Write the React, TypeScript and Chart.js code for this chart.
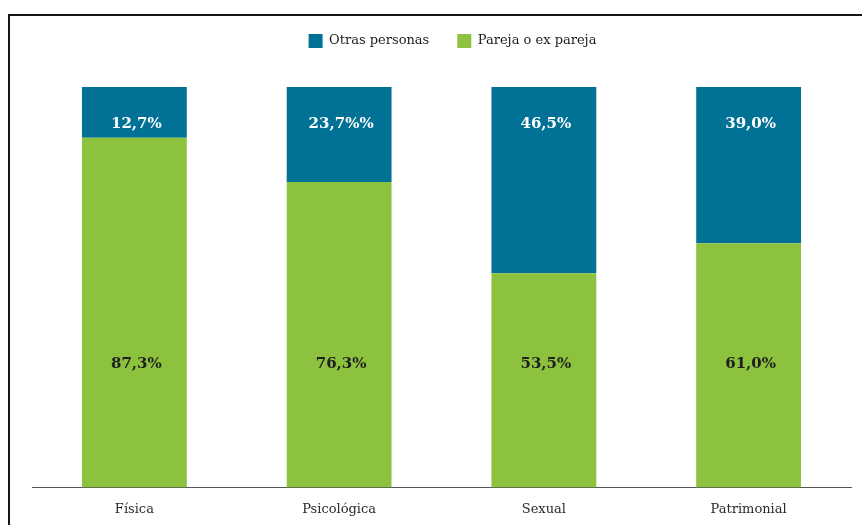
import { useEffect, useRef } from "react";
import { Chart, registerables } from "chart.js";

Chart.register(...registerables);

const categories = ["Física", "Psicológica", "Sexual", "Patrimonial"];
const seriesNames = ["Pareja o ex pareja", "Otras personas"];
const parejaValues = [87.3, 76.3, 53.5, 61.0];
const otrasValues = [12.7, 23.7, 46.5, 39.0];
const parejaLabels = ["87,3%", "76,3%", "53,5%", "61,0%"];
const otrasLabels = ["12,7%", "23,7%%", "46,5%", "39,0%"];

const BLUE = "#017296";
const GREEN = "#8DC23F";
const FONT = '"DejaVu Serif", serif';

export default function App() {
  const ref = useRef<HTMLCanvasElement | null>(null);

  useEffect(() => {
    if (!ref.current) return;

    const legendTweak = {
      id: "legendTweak",
      beforeLayout(chart: any) {
        const lg = chart.legend;
        if (lg && !lg.__patched) {
          const origFit = lg.fit;
          lg.fit = function () {
            origFit.call(this);
            this.height = 81;
          };
          const origDraw = lg.draw;
          lg.draw = function () {
            const c = this.ctx;
            c.save();
            c.translate(11, 0);
            origDraw.call(this);
            c.restore();
          };
          lg.__patched = true;
        }
      },
    };

    const valueLabels = {
      id: "valueLabels",
      afterDatasetsDraw(chart: any) {
        const { ctx } = chart;
        const y = chart.scales.y;
        const topBase = y.getPixelForValue(100) + 41;
        const bottomBase = y.getPixelForValue(0) - 119;
        ctx.save();
        ctx.font = `bold 15px ${FONT}`;
        ctx.textAlign = "center";
        ctx.textBaseline = "alphabetic";
        chart.getDatasetMeta(0).data.forEach((el: any, i: number) => {
          ctx.fillStyle = "#1f1f1f";
          ctx.fillText(parejaLabels[i], el.x + 2, bottomBase);
        });
        chart.getDatasetMeta(1).data.forEach((el: any, i: number) => {
          ctx.fillStyle = "#ffffff";
          ctx.fillText(otrasLabels[i], el.x + 2, topBase);
        });
        ctx.restore();
      },
    };

    const chart = new Chart(ref.current, {
      type: "bar",
      data: {
        labels: categories,
        datasets: [
          {
            label: seriesNames[0],
            data: parejaValues,
            backgroundColor: GREEN,
            borderWidth: 0,
          },
          {
            label: seriesNames[1],
            data: otrasValues,
            backgroundColor: BLUE,
            borderWidth: 0,
          },
        ],
      },
      options: {
        responsive: false,
        animation: false,
        devicePixelRatio: 1,
        layout: { padding: { left: 32, right: 11, top: 6, bottom: 17 } },
        datasets: {
          bar: { categoryPercentage: 1, barPercentage: 0.512 },
        },
        plugins: {
          legend: {
            position: "top",
            reverse: true,
            labels: {
              boxWidth: 14,
              boxHeight: 14,
              padding: 28,
              color: "#1c1c1c",
              font: { family: FONT, size: 13 },
            },
          },
          tooltip: { enabled: false },
        },
        scales: {
          x: {
            stacked: true,
            grid: { display: false },
            border: { display: true, color: "#555", width: 1 },
            ticks: {
              color: "#2a2a2a",
              padding: 6,
              font: { family: FONT, size: 13 },
            },
          },
          y: {
            stacked: true,
            display: false,
            min: 0,
            max: 100,
          },
        },
      },
      plugins: [legendTweak, valueLabels],
    });

    return () => chart.destroy();
  }, []);

  return (
    <div
      style={{
        position: "fixed",
        left: 0,
        top: 0,
        width: 862,
        height: 525,
        overflow: "hidden",
        background: "#fff",
      }}
    >
      <div
        style={{
          position: "absolute",
          left: 8,
          top: 14,
          width: 900,
          height: 600,
          border: "2px solid #161616",
        }}
      />
      <canvas
        ref={ref}
        width={862}
        height={540}
        style={{ position: "absolute", left: 0, top: 0, width: 862, height: 540 }}
      />
    </div>
  );
}
